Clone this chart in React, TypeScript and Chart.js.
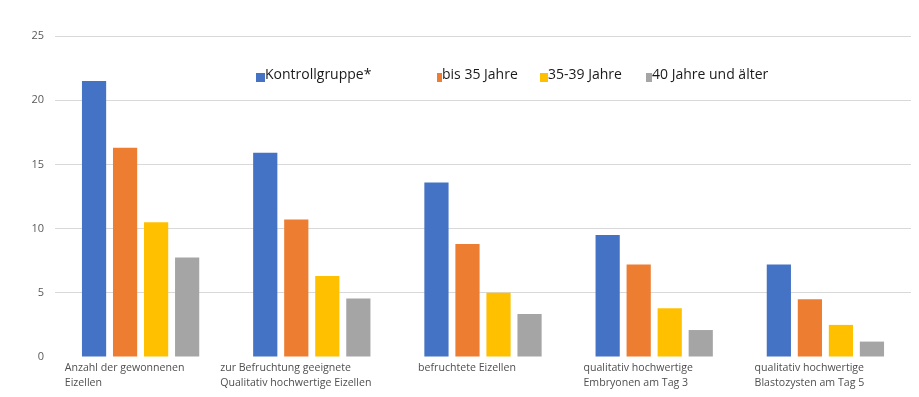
import React, { useEffect, useRef } from "react";
import { Chart, registerables } from "chart.js";

Chart.register(...registerables);

const categories: string[][] = [
  ["Anzahl der gewonnenen", "Eizellen"],
  ["zur Befruchtung geeignete", "Qualitativ hochwertige Eizellen"],
  ["befruchtete Eizellen"],
  ["qualitativ hochwertige", "Embryonen am Tag 3"],
  ["qualitativ hochwertige", "Blastozysten am Tag 5"],
];

const seriesNames = ["Kontrollgruppe*", "bis 35 Jahre", "35-39 Jahre", "40 Jahre und älter"];
const kontrollgruppe = [21.5, 15.9, 13.6, 9.5, 7.2];
const bis35 = [16.3, 10.7, 8.8, 7.2, 4.5];
const j35bis39 = [10.5, 6.3, 5.0, 3.8, 2.5];
const ab40 = [7.75, 4.55, 3.35, 2.1, 1.2];
const yTicks = [0, 5, 10, 15, 20, 25];

const colors = ["#4472C4", "#ED7D31", "#FFC000", "#A5A5A5"];

const FONT = "'Open Sans', 'Liberation Sans', sans-serif";

// legend layout (styling only)
const legendX = [256, 437, 540, 646];
const legendBoxW = [9, 5, 8, 6];

const legendPlugin = {
  id: "customLegend",
  afterDraw(chart: any) {
    const ctx = chart.ctx;
    ctx.save();
    ctx.font = `14px ${FONT}`;
    ctx.textBaseline = "alphabetic";
    ctx.textAlign = "left";
    chart.data.datasets.forEach((ds: any, i: number) => {
      const x = legendX[i];
      ctx.fillStyle = ds.backgroundColor;
      ctx.fillRect(x, 73, legendBoxW[i], 9);
      ctx.fillStyle = "#1a1a1a";
      ctx.fillText(ds.label, x + legendBoxW[i], 79);
    });
    ctx.restore();
  },
};

const xLabelPlugin = {
  id: "xLabels",
  afterDraw(chart: any) {
    const ctx = chart.ctx;
    const xs = chart.scales.x;
    const bottom = chart.chartArea.bottom;
    ctx.save();
    ctx.font = `10.6px ${FONT}`;
    ctx.fillStyle = "#4f4f4f";
    ctx.textAlign = "left";
    ctx.textBaseline = "alphabetic";
    (chart.data.labels as string[][]).forEach((lines, i) => {
      const cx = xs.getPixelForValue(i);
      const w = Math.max(...lines.map((l) => ctx.measureText(l).width));
      const x0 = cx - w / 2 - 16;
      lines.forEach((l, j) => {
        ctx.fillText(l, x0, bottom + 14 + j * 15.3);
      });
    });
    ctx.restore();
  },
};

export default function App() {
  const canvasRef = useRef<HTMLCanvasElement | null>(null);

  useEffect(() => {
    document.body.style.margin = "0";
    const canvas = canvasRef.current;
    if (!canvas) return;
    const values = [kontrollgruppe, bis35, j35bis39, ab40];
    const chart = new Chart(canvas, {
      type: "bar",
      data: {
        labels: categories,
        datasets: seriesNames.map((name, i) => ({
          label: name,
          data: values[i],
          backgroundColor: colors[i],
          borderWidth: 0,
          categoryPercentage: 0.725,
          barPercentage: 0.78,
        })),
      },
      options: {
        animation: false,
        responsive: true,
        maintainAspectRatio: false,
        layout: { padding: { top: 36, left: 0, right: 8, bottom: 0 } },
        plugins: {
          legend: { display: false },
          tooltip: { enabled: false },
        },
        scales: {
          x: {
            offset: true,
            grid: { display: false },
            border: { display: false },
            ticks: { display: false },
            afterFit: (s: any) => {
              s.height = 40;
            },
          },
          y: {
            min: 0,
            max: 25,
            afterBuildTicks: (s: any) => {
              s.ticks = yTicks.map((v) => ({ value: v }));
            },
            grid: {
              drawTicks: false,
              color: (c: any) => (c.tick && c.tick.value === 0 ? "rgba(0,0,0,0)" : "#D9D9D9"),
              lineWidth: 1,
            },
            border: { display: false },
            ticks: {
              padding: 11,
              color: "#595959",
              font: { family: FONT, size: 11 },
            },
            afterFit: (s: any) => {
              s.width = 55;
            },
          },
        },
      },
      plugins: [legendPlugin, xLabelPlugin],
    });
    return () => chart.destroy();
  }, []);

  return (
    <div style={{ width: 919, height: 397, position: "relative", background: "#fff" }}>
      <canvas ref={canvasRef} />
    </div>
  );
}
